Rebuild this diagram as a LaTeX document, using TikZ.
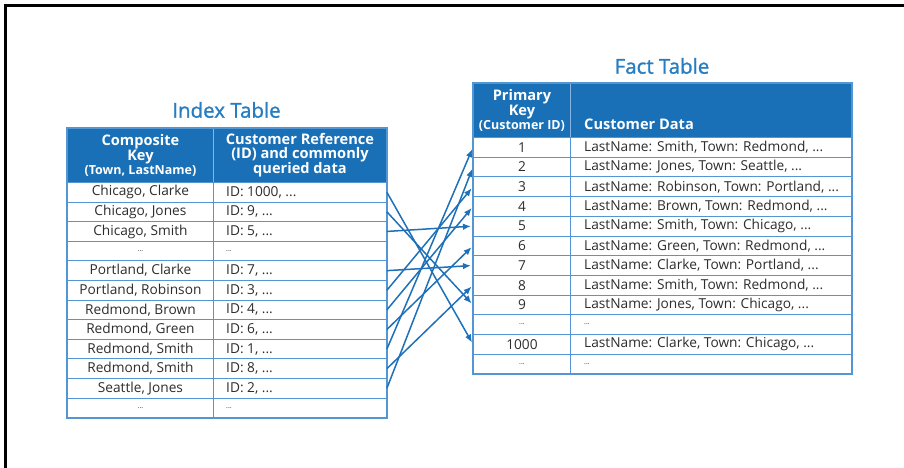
\documentclass[tikz,border=0pt]{standalone}
\usepackage{fontspec}
\setmainfont{Open Sans}
\newfontfamily\titlefont[FakeBold=1.2]{Open Sans}
\usetikzlibrary{arrows.meta}
\definecolor{hdrblue}{RGB}{26,112,183}
\definecolor{titleblue}{RGB}{38,125,194}
\definecolor{gridblue}{RGB}{84,150,212}
\definecolor{arrowblue}{RGB}{30,113,185}
\definecolor{textgray}{RGB}{45,45,45}
\tikzset{
  cellbox/.style={draw=gridblue, line width=0.9pt, minimum height=19.6pt, inner sep=0pt, anchor=north west, font=\fontsize{13.7}{15}\selectfont, text=textgray},
  fcellbox/.style={cellbox, minimum height=19.7pt},
  celltext/.style={anchor=west, inner sep=0pt, font=\fontsize{13.7}{15}\selectfont, text=textgray},
  hdrbox/.style={draw=gridblue!70, fill=hdrblue, line width=0.9pt, inner sep=0pt, anchor=north west, minimum height=54pt},
  hdrtext/.style={text=white, align=center, inner sep=0pt, font=\bfseries\fontsize{14.6}{13.8}\selectfont},
  titletext/.style={text=titleblue, inner sep=0pt, font=\titlefont\fontsize{20.5}{22}\selectfont},
  link/.style={draw=arrowblue, line width=1.5pt, -{Latex[length=8pt,width=6.5pt]}, shorten >=2pt},
  outline/.style={draw=gridblue, line width=1.4pt}
}
\newcommand{\subhdr}[1]{{\fontsize{12.5}{13}\selectfont #1}}
\begin{document}
\begin{tikzpicture}[x=1pt,y=-1pt]
\useasboundingbox (0,0) rectangle (904,468);
\fill[white] (0,0) rectangle (904,468);
\draw[black, line width=2.6pt] (5.3,468) -- (5.3,5.5) -- (904,5.5);

% ---------- Index table ----------
\node[titletext] (ititle) at (226.5,110) {Index Table};
\node[hdrbox, minimum width=146pt] (ih1) at (67,128) {};
\node[hdrbox, minimum width=173pt] (ih2) at (213,128) {};
\node[hdrtext] (iht1) at (ih1.center) {Composite\\Key\\\subhdr{(Town, LastName)}};
\node[hdrtext] (iht2) at (ih2.center) {Customer Reference\\(ID) and commonly\\queried data};

\foreach \k/\a/\b in {1/{Chicago, Clarke}/{ID: 1000, ...},
                      2/{Chicago, Jones}/{ID: 9, ...},
                      3/{Chicago, Smith}/{ID: 5, ...},
                      4/{\scriptsize ...}/{\scriptsize ...},
                      5/{Portland, Clarke}/{ID: 7, ...},
                      6/{Portland, Robinson}/{ID: 3, ...},
                      7/{Redmond, Brown}/{ID: 4, ...},
                      8/{Redmond, Green}/{ID: 6, ...},
                      9/{Redmond, Smith}/{ID: 1, ...},
                      10/{Redmond, Smith}/{ID: 8, ...},
                      11/{Seattle, Jones}/{ID: 2, ...},
                      12/{\scriptsize ...}/{\scriptsize ...}} {
  \pgfmathsetmacro{\yy}{182+19.6*(\k-1)}
  \node[cellbox, minimum width=146pt] (ia\k) at (67,\yy) {\a};
  \node[cellbox, minimum width=173pt] (ib\k) at (213,\yy) {};
  \node[celltext] (ibt\k) at ([xshift=13pt]ib\k.west) {\b};
}
\draw[outline] (ih1.north west) rectangle (ib12.south east);

% ---------- Fact table ----------
\node[titletext] (ftitle) at (662,66) {Fact Table};
\node[hdrbox, minimum width=97pt] (fh1) at (473,83) {};
\node[hdrbox, minimum width=281pt] (fh2) at (570,83) {};
\node[hdrtext] (fht1) at (fh1.center) {Primary\\Key\\\subhdr{(Customer ID)}};
\node[hdrtext, anchor=west] (fht2) at (584,124) {Customer Data};

\foreach \k/\a/\b in {1/1/{LastName: Smith, Town: Redmond, ...},
                      2/2/{LastName: Jones, Town: Seattle, ...},
                      3/3/{LastName: Robinson, Town: Portland, ...},
                      4/4/{LastName: Brown, Town: Redmond, ...},
                      5/5/{LastName: Smith, Town: Chicago, ...},
                      6/6/{LastName: Green, Town: Redmond, ...},
                      7/7/{LastName: Clarke, Town: Portland, ...},
                      8/8/{LastName: Smith, Town: Redmond, ...},
                      9/9/{LastName: Jones, Town: Chicago, ...},
                      10/{\scriptsize ...}/{\scriptsize ...},
                      11/1000/{LastName: Clarke, Town: Chicago, ...},
                      12/{\scriptsize ...}/{\scriptsize ...}} {
  \pgfmathsetmacro{\yy}{137+19.7*(\k-1)}
  \node[fcellbox, minimum width=97pt] (fa\k) at (473,\yy) {\a};
  \node[fcellbox, minimum width=281pt] (fb\k) at (570,\yy) {};
  \node[celltext] (fbt\k) at ([xshift=14pt]fb\k.west) {\b};
}
\draw[outline] (fh1.north west) rectangle (fb12.south east);

% ---------- Links ----------
\foreach \s/\t in {1/11, 2/9, 3/5, 5/7, 6/3, 7/4, 8/6, 9/1, 10/8, 11/2} {
  \draw[link] (ib\s.east) -- (fa\t.west);
}
\end{tikzpicture}
\end{document}
